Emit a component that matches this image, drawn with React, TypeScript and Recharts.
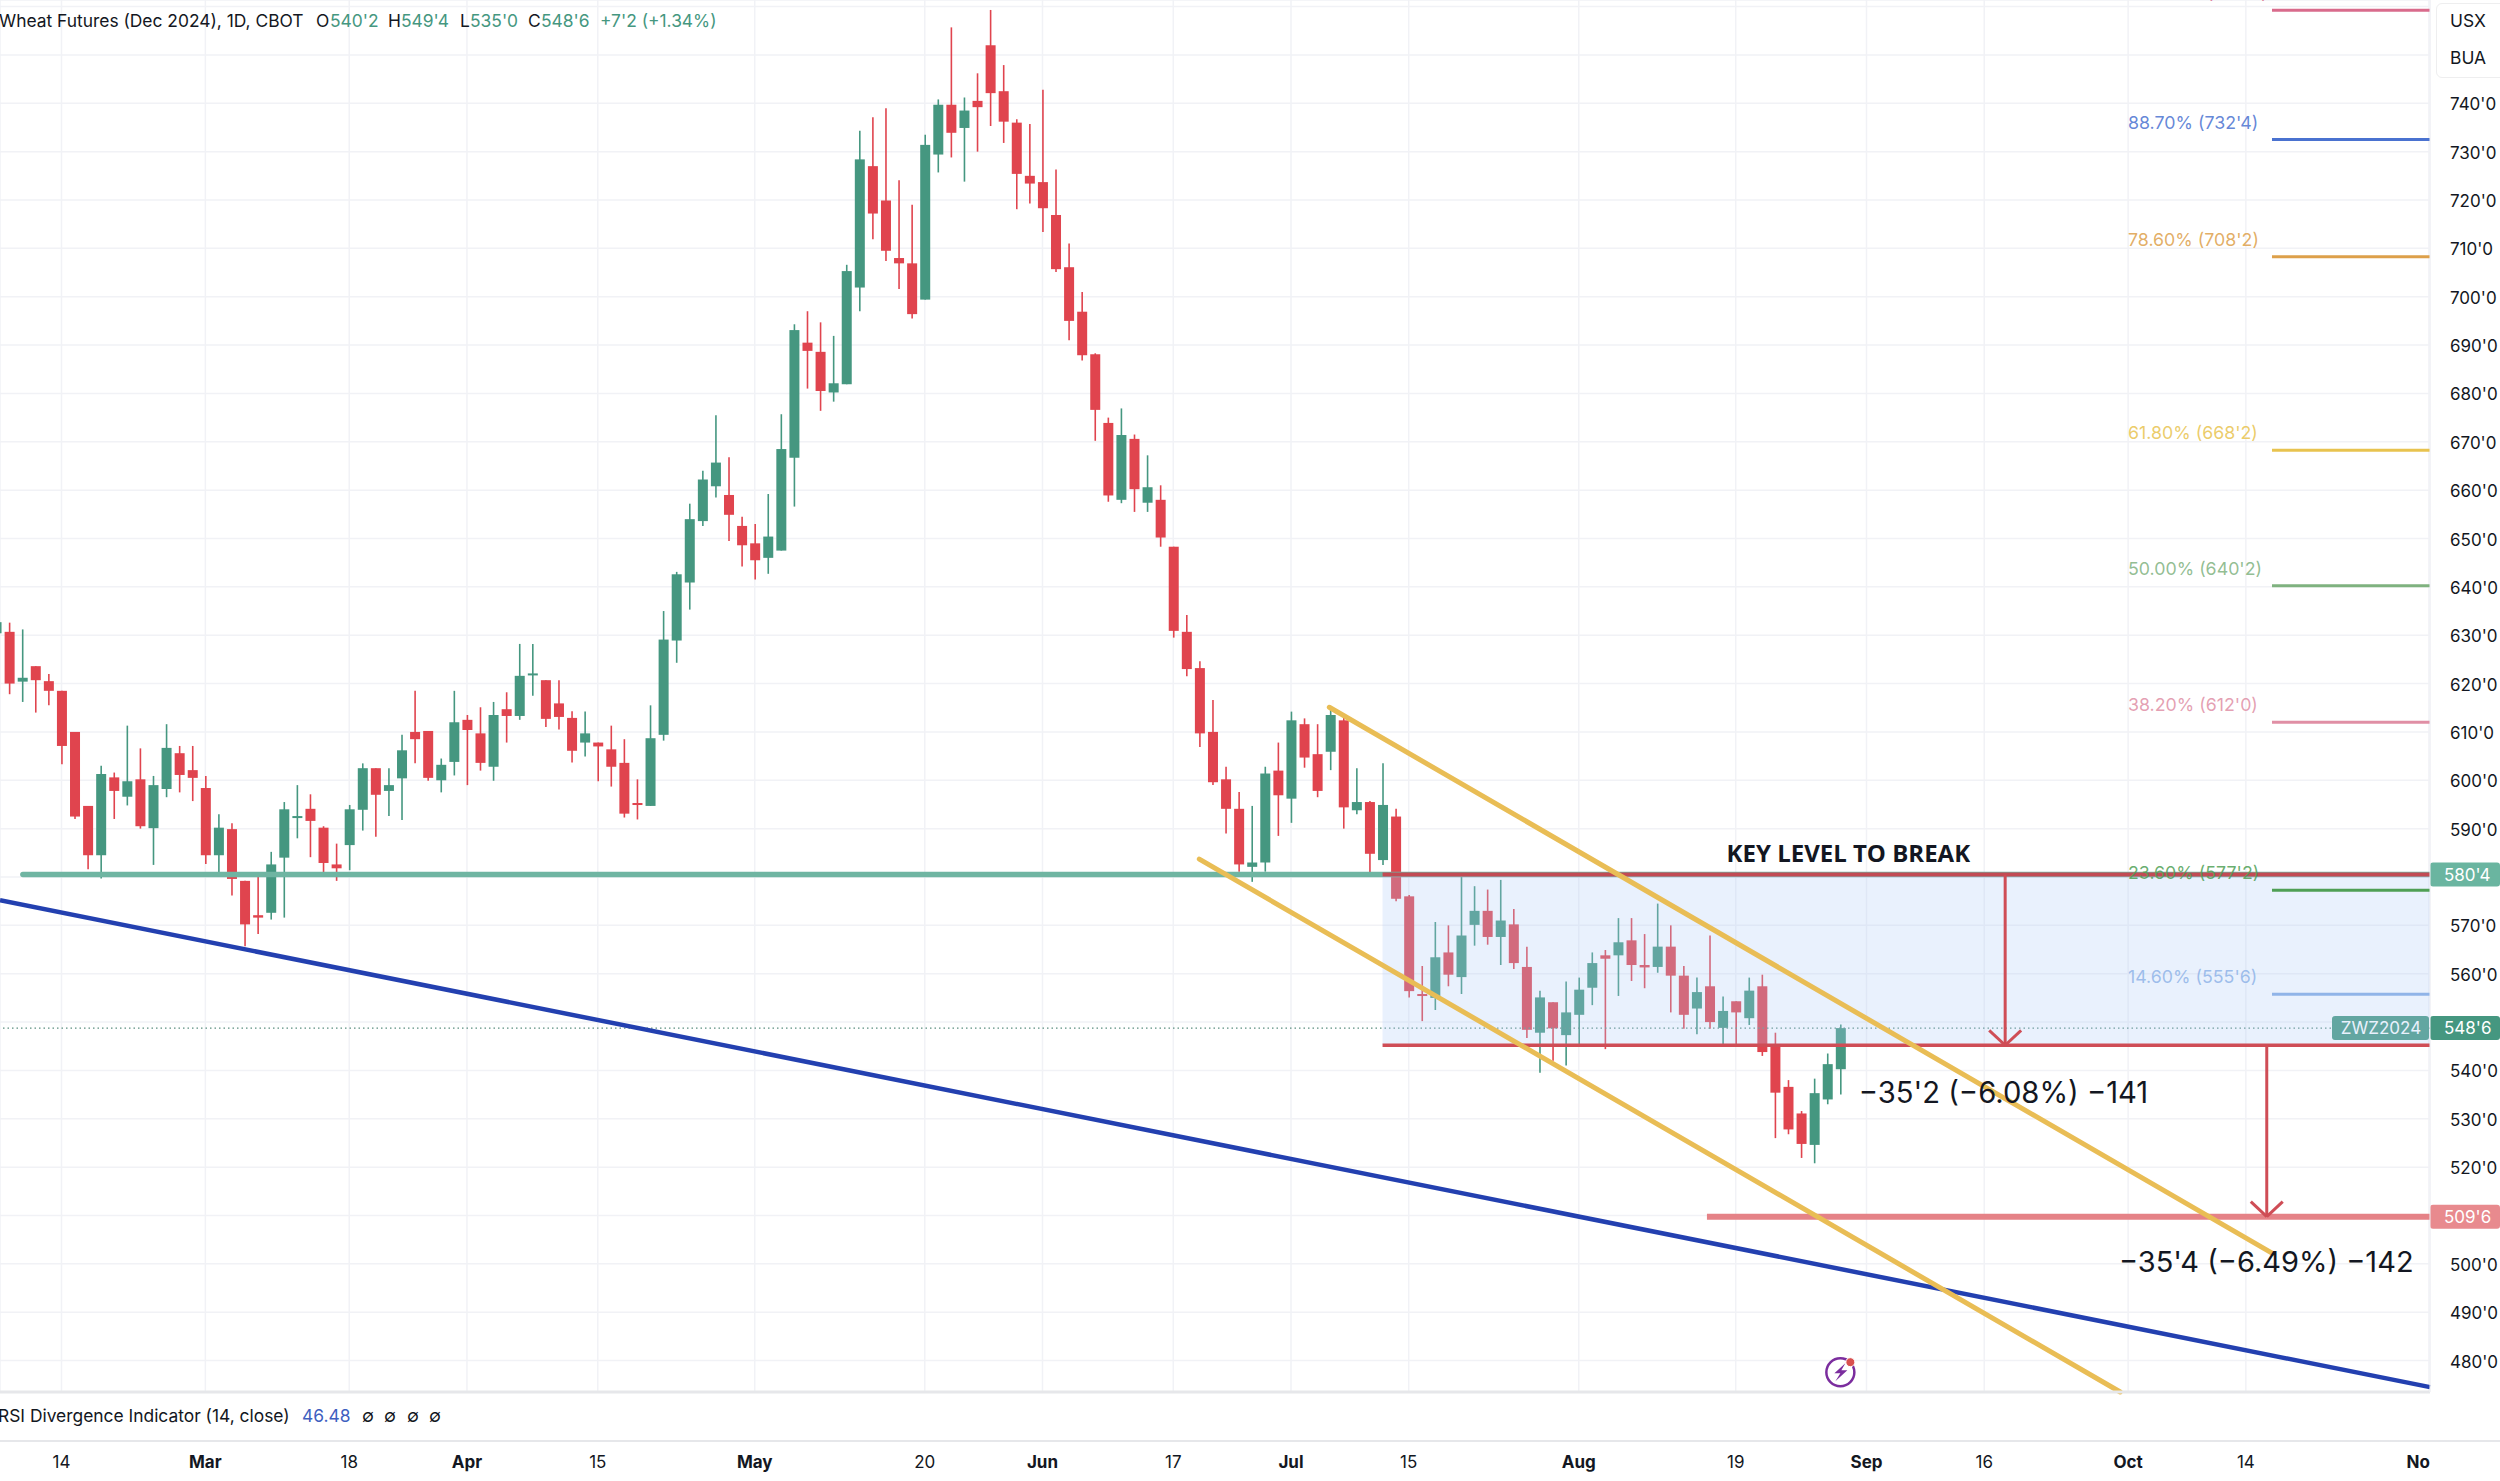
import React from 'react';
import { ComposedChart, Bar, XAxis, YAxis, CartesianGrid, ReferenceLine, ReferenceArea, ReferenceDot } from 'recharts';

const FONT = 'Inter, sans-serif';
const INK = '#131722';
const UP = '#459780';
const DOWN = '#e0444e';

// session number of the first candle, the rest follow one by one
const firstSession = -1;
const opens = [
  630.4, 630.7, 620.4, 623.6, 620.5, 618.5, 610, 594.7, 584.5, 600.6, 596.6, 600.2, 590.1, 598.2, 605.6, 602.1, 598.4, 584.5, 589.9, 579.2,
  572.1, 572.6, 584, 592.3, 594.1, 590.2, 582.6, 586.6, 593.9, 602.5, 597.8, 600.4, 610, 610.2, 600, 603.8, 612.5, 609.7, 602.8, 614.7,
  613.3, 621.9, 620.7, 615.9, 612.9, 607.8, 607.8, 606.4, 603.6, 595.3, 594.7, 609.4, 628.9, 640.9, 653.6, 660.8, 659, 652.6, 649, 646,
  647.5, 666.7, 690.5, 688.6, 680.2, 681.9, 701.9, 727, 719.9, 708, 706.9, 699.4, 729.4, 739.7, 734.9, 740.5, 752, 742.5, 736, 725,
  723.7, 716.9, 706.1, 696.9, 688.1, 673.9, 658, 670.6, 657.4, 658, 648.3, 630.7, 623.2, 610, 600.2, 594.1, 582.1, 583, 602, 596.2,
  611.6, 605.4, 605.9, 612.4, 593.8, 595.5, 583.5, 592.5, 576, 555.8, 555, 564.4, 559.3, 570.1, 573, 567.6, 570.2, 561.4, 547.8, 554.1,
  547.3, 551.5, 557.1, 563.8, 563.8, 566.9, 561.8, 561.4, 565.6, 559.6, 552.8, 557.4, 548.8, 554.3, 550.8, 557.4, 545.2, 536.6, 531.1, 524.6,
  534, 540.25,
];
const highs = [
  633.5, 632.6, 631.2, 623.6, 622, 618.5, 610, 594.7, 603, 601.6, 611.3, 606.6, 600.9, 611.6, 607.1, 607.1, 600.9, 593, 591.1, 579.2,
  581, 585.2, 595.5, 599, 597.1, 590.5, 586.9, 594.9, 603.5, 602.5, 602.5, 609.4, 618.5, 610.2, 604.5, 618.5, 613.5, 615.1, 616.2, 618.2,
  628.2, 628.2, 620.7, 620.7, 614.3, 614.2, 607.8, 611.3, 608.5, 600.2, 615.5, 635, 643.1, 657.2, 664, 675.5, 666.8, 654.5, 653, 659.2,
  675.7, 694.3, 697, 694.7, 691.9, 706.6, 734.3, 737.1, 739, 724.1, 719, 733.5, 740.8, 755.7, 741.2, 746.2, 759.3, 747.9, 736.7, 735.7,
  742.8, 726.3, 711, 701, 688.3, 675, 676.9, 671.5, 667.2, 661, 648.3, 634.2, 624.6, 616.6, 602.8, 597.6, 594.7, 602.8, 607.8, 614.2,
  612.8, 611.6, 614.9, 613.1, 602.5, 595.7, 603.5, 594.1, 576.3, 561.6, 570.7, 570, 580.1, 578.1, 577.4, 579.4, 573.4, 565.6, 556.5, 554.1,
  558.4, 559.2, 564.4, 564.9, 571.5, 571.5, 568.2, 574.5, 570, 561.6, 559.2, 567.9, 555.3, 554.3, 559.2, 559.8, 547.8, 538, 531.6, 538.3,
  543.5, 549.5,
];
const lows = [
  628, 617.8, 616.2, 614, 615.5, 603.3, 592, 581.6, 579.7, 592, 594.8, 590, 582.5, 596.5, 597.5, 595.7, 582.7, 580.9, 576.2, 565.7,
  568.2, 571.2, 571.6, 588, 584.1, 580.2, 579.2, 581.4, 589.6, 588.3, 592.6, 591.8, 603.5, 599.9, 597.5, 601, 599, 602, 599.9, 607.8,
  612.5, 617.5, 611, 610.5, 603.7, 604.9, 599.8, 598.7, 592.3, 591.9, 594.7, 608.2, 624.3, 635.3, 652.6, 658.5, 649.5, 644.2, 641.5, 642.7,
  647.5, 656.6, 681, 676.4, 678.3, 681.9, 697, 711.9, 707.4, 701.6, 695.5, 699.4, 725.7, 728.8, 723.8, 730, 735.3, 731.8, 718.1, 719.3,
  713.4, 705.1, 691, 686.8, 670.2, 657.6, 657.3, 655.5, 655.5, 648.3, 629.5, 621.5, 606.9, 599, 589, 581.1, 579, 581.1, 588.5, 591.2,
  602.6, 596.5, 602.1, 590, 593, 580.5, 582.5, 575, 555.1, 550.2, 552.5, 557.4, 555.8, 565.8, 566, 561.8, 561, 546.7, 539.5, 542,
  541, 545.2, 553.5, 544.4, 555.4, 558.5, 557, 560.2, 552, 548.6, 547.5, 548.6, 545.2, 545.2, 549.4, 543, 526, 526.8, 521.9, 520.8,
  533, 535,
];
const closes = [
  632.7, 620, 621.2, 620.7, 618.5, 607.1, 592.5, 584.5, 601.3, 597.8, 599.8, 590.5, 599, 606.7, 601.1, 600.5, 584.5, 590.2, 579.6, 570.2,
  571.6, 582.6, 594, 592.6, 591.6, 582.9, 581.8, 594, 602.5, 597, 599, 606.2, 608.5, 600.5, 603.2, 612, 610.4, 603.6, 613.5, 613.3,
  621.6, 622.1, 612.7, 613.1, 606.1, 609.7, 607, 602.8, 593.1, 595.1, 608.7, 629.1, 642.6, 654, 662.2, 665.7, 654.9, 648.6, 645.5, 650.4,
  668.5, 693.1, 688.8, 680.5, 682.1, 705.3, 728.4, 717.2, 709.5, 706.9, 696.4, 731.4, 739.7, 733.9, 738.5, 739.2, 742.1, 736.2, 725.4, 723.4,
  718.3, 705.7, 695, 687.9, 676.6, 658.9, 671.4, 660.2, 660.6, 650.2, 630.9, 623, 609.7, 599.6, 594.1, 582.6, 583, 601.4, 596.9, 612.4,
  604.7, 597.8, 613.5, 594.4, 595.5, 584.8, 594.9, 575.5, 556.4, 555.6, 563.4, 559.8, 567.9, 573, 567.6, 571, 562.2, 548.4, 555.1, 548.7,
  552, 556.7, 562.2, 563.1, 566.5, 561.8, 561.3, 565.6, 559.6, 551.5, 556.2, 550, 552.3, 552, 556.5, 543.8, 535.4, 527.8, 524.8, 535.3,
  541.3, 548.75,
];

const candles = opens.map((open, i) => ({
  session: firstSession + i,
  open,
  high: highs[i],
  low: lows[i],
  close: closes[i],
  range: [lows[i], highs[i]],
}));

const priceTicks = [480, 490, 500, 510, 520, 530, 540, 550, 560, 570, 580, 590, 600, 610, 620, 630, 640, 650, 660, 670, 680, 690, 700, 710, 720, 730, 740, 750, 760];
// covered by the price tags and the currency box
const hiddenPriceLabels = [510, 550, 580, 750, 760];
const timeTicks = [4, 15, 26, 35, 45, 57, 70, 79, 89, 98, 107, 120, 132, 142, 151, 162, 171, 185];
const timeLabels = ['14', 'Mar', '18', 'Apr', '15', 'May', '20', 'Jun', '17', 'Jul', '15', 'Aug', '19', 'Sep', '16', 'Oct', '14', 'No'];
const monthLabels = ['Mar', 'Apr', 'May', 'Jun', 'Jul', 'Aug', 'Sep', 'Oct', 'No'];

const fibLevels = [759.25, 732.5, 708.25, 668.25, 640.25, 612, 577.25, 555.75];
const fibNames = ["100.00% (759'2)", "88.70% (732'4)", "78.60% (708'2)", "61.80% (668'2)", "50.00% (640'2)", "38.20% (612'0)", "23.60% (577'2)", "14.60% (555'6)"];
const fibColors = ['#d96b8c', '#4a72d0', '#dda04a', '#e8c34f', '#7fb27f', '#e08fa5', '#4f9f55', '#90b4e8'];
const fibStart = 173;

const minSession = -0.7;
const maxSession = 185.08;
const minPrice = 473.5;
const maxPrice = 761.36;

const keyLevel = 580.5;
const lastPrice = 548.75;
const boxBottom = 545.2;
const target = 509.75;
const boxStart = 105;
const targetStart = 129.8;
const keyLineStart = 1.05;

const blueLine = [{ x: minSession, y: 575.2 }, { x: maxSession, y: 474.5 }];
const upperChannel = [{ x: 100.93, y: 615.1 }, { x: 173.07, y: 502.1 }];
const lowerChannel = [{ x: 90.99, y: 583.7 }, { x: 161.4, y: 473.5 }];
const arrowSessions = [152.6, 172.6];
const arrowTops = [keyLevel, boxBottom];
const arrowEnds = [boxBottom, target];

const Candle = (props: any) => {
  const { x, y, width, height, payload } = props;
  const span = payload.high - payload.low || 1;
  const toY = (v: number) => y + ((payload.high - v) / span) * height;
  const cx = x + width / 2;
  const color = payload.close >= payload.open ? UP : DOWN;
  const top = toY(Math.max(payload.open, payload.close));
  const bottom = toY(Math.min(payload.open, payload.close));
  return (
    <g>
      <line x1={cx} x2={cx} y1={y} y2={y + height} stroke={color} strokeWidth={1.6} />
      <rect x={cx - 5} y={top} width={10} height={Math.max(bottom - top, 2)} fill={color} />
    </g>
  );
};

const TimeTick = (props: any) => {
  const { x, y, payload } = props;
  const label = timeLabels[timeTicks.indexOf(payload.value)];
  // the last month name runs into the price scale and only shows its start
  const cut = label === 'No';
  return (
    <text x={cut ? x + 1 : x} y={y} dy={68} textAnchor={cut ? 'end' : 'middle'} fontFamily={FONT} fontSize={17} fill={INK} fontWeight={monthLabels.includes(label) ? 700 : 400}>
      {label}
    </text>
  );
};

const PriceTick = (props: any) => {
  const { x, y, payload } = props;
  if (hiddenPriceLabels.includes(payload.value)) return null;
  return (
    <text x={x} y={y} dy={7} textAnchor="start" fontFamily={FONT} fontSize={17} fill={INK}>
      {`${payload.value}'0`}
    </text>
  );
};

const FibLabel = (color: string, name: string) => (props: any) => {
  const { viewBox } = props;
  return (
    <text x={viewBox.x - 144} y={viewBox.y - 11} fontFamily={FONT} fontSize={17.8} fill={color} fillOpacity={0.85}>
      {name}
    </text>
  );
};

const PriceTag = (color: string, text: string, extra?: string) => (props: any) => {
  const { viewBox } = props;
  const right = viewBox.x + viewBox.width;
  return (
    <g>
      <rect x={right} y={viewBox.y - 12} width={70} height={24} rx={3} fill={color} />
      <text x={right + 14} y={viewBox.y + 6} fontFamily={FONT} fontSize={17} fill="#ffffff">{text}</text>
      {extra && <rect x={right - 98} y={viewBox.y - 12} width={97} height={24} rx={3} fill={color} />}
      {extra && <text x={right - 49} y={viewBox.y + 6} textAnchor="middle" fontFamily={FONT} fontSize={17} fill="#ffffff">{extra}</text>}
    </g>
  );
};

const Note = (text: string, size: number, family: string, weight: number) => (props: any) => (
  <text x={props.cx} y={props.cy} fontFamily={family} fontSize={size} fontWeight={weight} fill={INK} dominantBaseline="central">
    {text}
  </text>
);

const FlashIcon = (props: any) => (
  <g>
    <circle cx={props.cx} cy={props.cy} r={14} fill="#ffffff" stroke="#7b2d9e" strokeWidth={2.5} />
    <path d={`M${props.cx + 5} ${props.cy - 9} L${props.cx - 6} ${props.cy + 1} L${props.cx} ${props.cy + 1} L${props.cx - 5} ${props.cy + 9} L${props.cx + 7} ${props.cy - 2} L${props.cx + 1} ${props.cy - 2} Z`} fill="#7b2d9e" />
    <circle cx={props.cx + 10} cy={props.cy - 10} r={4.5} fill="#d9504f" stroke="#ffffff" strokeWidth={1} />
  </g>
);

const Abs = ({ x, y, color, children, bold, size = 17.4 }: any) => (
  <div style={{ position: 'absolute', left: x, top: y, color, fontFamily: FONT, fontSize: size, lineHeight: '20px', whiteSpace: 'nowrap', fontWeight: bold ? 700 : 400 }}>
    {children}
  </div>
);

const App: React.FC = () => {
  return (
    <div style={{ position: 'absolute', left: 0, top: 0, width: 2500, height: 1481, overflow: 'hidden', background: '#ffffff' }}>
      <ComposedChart width={2500} height={1481} data={candles} margin={{ top: 0, right: 0, bottom: 0, left: 0 }}>
        <CartesianGrid stroke="#f1f2f6" strokeWidth={1.5} />
        <XAxis
          dataKey="session"
          type="number"
          domain={[minSession, maxSession]}
          allowDataOverflow
          ticks={timeTicks}
          interval={0}
          height={89}
          tickLine={false}
          axisLine={{ stroke: '#e6e7ea', strokeWidth: 3 }}
          tick={<TimeTick />}
        />
        <YAxis
          orientation="right"
          type="number"
          domain={[minPrice, maxPrice]}
          allowDataOverflow
          ticks={priceTicks}
          interval={0}
          width={70}
          tickLine={false}
          tickMargin={14}
          axisLine={{ stroke: '#f1f2f6' }}
          tick={<PriceTick />}
        />
        <Bar dataKey="range" barSize={10} isAnimationActive={false} shape={<Candle />} />

        <ReferenceLine y={lastPrice} zIndex={400} stroke="#5c8f80" strokeWidth={1.2} strokeDasharray="1.5 3" label={PriceTag(UP, "548'6", 'ZWZ2024')} />
        <ReferenceLine segment={[{ x: keyLineStart, y: keyLevel }, { x: maxSession, y: keyLevel }]} zIndex={400} stroke="#6fb5a2" strokeWidth={5.5} strokeLinecap="round" />
        <ReferenceArea x1={boxStart} x2={maxSession} y1={boxBottom} y2={keyLevel} zIndex={400} fill="#b0cdf8" fillOpacity={0.28} stroke="none" />
        <ReferenceLine segment={[{ x: boxStart, y: keyLevel }, { x: maxSession, y: keyLevel }]} zIndex={400} stroke="#c24b54" strokeWidth={4} label={PriceTag('#6ab5a0', "580'4")} />
        <ReferenceLine segment={[{ x: boxStart, y: boxBottom }, { x: maxSession, y: boxBottom }]} zIndex={400} stroke="#cf4d56" strokeWidth={3.5} />
        <ReferenceLine segment={[{ x: targetStart, y: target }, { x: maxSession, y: target }]} zIndex={400} stroke="#e58287" strokeWidth={6} label={PriceTag('#e88a8e', "509'6")} />

        {fibLevels.map((level, i) => (
          <ReferenceLine
            key={fibNames[i]}
            segment={[{ x: fibStart, y: level }, { x: maxSession, y: level }]}
            zIndex={400}
            stroke={fibColors[i]}
            strokeWidth={3}
            label={FibLabel(fibColors[i], fibNames[i])}
          />
        ))}

        <ReferenceLine segment={blueLine} zIndex={400} stroke="#2340b0" strokeWidth={4.5} />
        <ReferenceLine segment={upperChannel} zIndex={400} stroke="#e9bd55" strokeWidth={5} strokeLinecap="round" />
        <ReferenceLine segment={lowerChannel} zIndex={400} stroke="#e9bd55" strokeWidth={5} strokeLinecap="round" />

        {arrowSessions.map((s, i) => (
          <React.Fragment key={s}>
            <ReferenceLine segment={[{ x: s, y: arrowTops[i] }, { x: s, y: arrowEnds[i] }]} zIndex={400} stroke="#cf4d56" strokeWidth={3} />
            <ReferenceLine segment={[{ x: s - 1.22, y: arrowEnds[i] + 3.1 }, { x: s, y: arrowEnds[i] }]} zIndex={400} stroke="#cf4d56" strokeWidth={3} />
            <ReferenceLine segment={[{ x: s + 1.22, y: arrowEnds[i] + 3.1 }, { x: s, y: arrowEnds[i] }]} zIndex={400} stroke="#cf4d56" strokeWidth={3} />
          </React.Fragment>
        ))}

        <ReferenceDot x={131.3} y={585} r={1} zIndex={400} shape={Note('KEY LEVEL TO BREAK', 24, '"Open Sans", sans-serif', 700)} />
        <ReferenceDot x={141.4} y={535.5} r={1} zIndex={400} shape={Note("\u221235'2 (\u22126.08%) \u2212141", 29.2, FONT, 400)} />
        <ReferenceDot x={161.3} y={500.4} r={1} zIndex={400} shape={Note("\u221235'4 (\u22126.49%) \u2212142", 29, FONT, 400)} />
        <ReferenceDot x={140} y={477.6} r={1} zIndex={400} shape={<FlashIcon />} />
      </ComposedChart>

      <Abs x={-1} y={11} color={INK}>Wheat Futures (Dec 2024), 1D, CBOT</Abs>
      <Abs x={316} y={11} color={INK}>O</Abs>
      <Abs x={330} y={11} color={UP}>540'2</Abs>
      <Abs x={388} y={11} color={INK}>H</Abs>
      <Abs x={401} y={11} color={UP}>549'4</Abs>
      <Abs x={460} y={11} color={INK}>L</Abs>
      <Abs x={470} y={11} color={UP}>535'0</Abs>
      <Abs x={528} y={11} color={INK}>C</Abs>
      <Abs x={541} y={11} color={UP}>548'6</Abs>
      <Abs x={600} y={11} color={UP}>+7'2 (+1.34%)</Abs>

      <div style={{ position: 'absolute', left: 0, top: 1440, width: 2500, height: 2, background: '#e6e7ea' }} />
      <Abs x={-2} y={1406} color={INK}>RSI Divergence Indicator (14, close)</Abs>
      <Abs x={302} y={1406} color="#3f5fbf">46.48</Abs>
      <Abs x={362} y={1406} color={INK}>∅</Abs>
      <Abs x={384} y={1406} color={INK}>∅</Abs>
      <Abs x={407} y={1406} color={INK}>∅</Abs>
      <Abs x={429} y={1406} color={INK}>∅</Abs>

      <div style={{ position: 'absolute', left: 2436, top: 3, width: 70, height: 73, border: '1px solid #eeeeef', borderRadius: 6, background: '#ffffff' }} />
      <Abs x={2450} y={11} color={INK}>USX</Abs>
      <Abs x={2450} y={48} color={INK}>BUA</Abs>
    </div>
  );
};

export default App;
